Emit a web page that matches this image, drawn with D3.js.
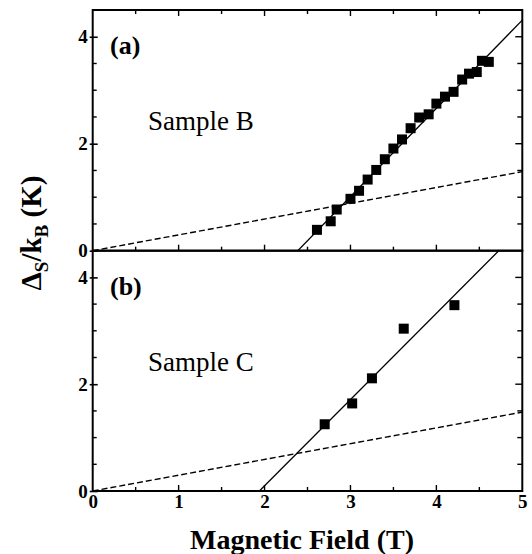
<!DOCTYPE html>
<html>
<head>
<meta charset="utf-8">
<script src="https://cdn.jsdelivr.net/npm/d3@7"></script>
<style>
  html, body { margin: 0; padding: 0; background: #fff; }
  svg { display: block; }
  text { font-family: "Liberation Serif", "Times New Roman", serif; fill: #000; }
</style>
</head>
<body>
<svg id="chart" width="532" height="554"></svg>
<script>
// Spin splitting Δ_S/k_B versus magnetic field, two samples
const fieldB = [2.61, 2.77, 2.84, 3.00, 3.10, 3.20, 3.30, 3.40, 3.50, 3.60, 3.70,
                3.80, 3.91, 4.00, 4.10, 4.20, 4.30, 4.38, 4.47, 4.53, 4.61];
const gapB   = [0.39, 0.55, 0.77, 0.97, 1.12, 1.33, 1.51, 1.71, 1.91, 2.08, 2.29,
                2.49, 2.55, 2.75, 2.88, 2.97, 3.20, 3.31, 3.34, 3.55, 3.53];
const fieldC = [2.70, 3.02, 3.25, 3.62, 4.21];
const gapC   = [1.25, 1.64, 2.11, 3.04, 3.48];

// Linear fits: [field where gap = 0, slope K/T]
const fitB = [2.387, 1.65];
const fitC = [1.94, 1.615];
// Bare Zeeman energy line slope (K/T)
const zeemanSlope = 0.2955;

const xMajor = [0, 1, 2, 3, 4, 5];
const yMajor = [0, 2, 4];
const xDomain = [0, 5];
const yDomain = [0, 4.5];

const svg = d3.select("#chart");
const left = 92.7, right = 522.3;
const serif = "'Liberation Serif', 'Times New Roman', serif";
const panels = [
  { top: 10, bottom: 250.7, tag: "(a)", name: "Sample B", xs: fieldB, ys: gapB, fit: fitB, topTicks: true },
  { top: 250.7, bottom: 491, tag: "(b)", name: "Sample C", xs: fieldC, ys: gapC, fit: fitC, topTicks: false }
];

const x = d3.scaleLinear().domain(xDomain).range([left, right]);
const minorX = d3.range(0, 5.001, 0.5);
const minorY = d3.range(0, 4.501, 0.5);

panels.forEach((p, i) => {
  const y = d3.scaleLinear().domain(yDomain).range([p.bottom, p.top]);
  const g = svg.append("g");
  const clipId = "clip" + i;
  svg.append("clipPath").attr("id", clipId)
    .append("rect").attr("x", left).attr("y", p.top)
    .attr("width", right - left).attr("height", p.bottom - p.top);

  const plot = g.append("g").attr("clip-path", `url(#${clipId})`);

  // Zeeman line (dashed)
  plot.append("path")
    .datum(xDomain)
    .attr("d", d3.line().x(d => x(d)).y(d => y(zeemanSlope * d)))
    .attr("fill", "none").attr("stroke", "#000")
    .attr("stroke-width", 1.4).attr("stroke-dasharray", "6,3");

  // Linear fit (solid)
  const fitXs = [p.fit[0], 5];
  plot.append("path")
    .datum(fitXs)
    .attr("d", d3.line().x(d => x(d)).y(d => y(p.fit[1] * (d - p.fit[0]))))
    .attr("fill", "none").attr("stroke", "#000").attr("stroke-width", 1.3);

  // Data squares
  const sq = 10;
  plot.selectAll("rect.pt").data(p.xs.map((v, k) => [v, p.ys[k]]))
    .join("rect").attr("class", "pt")
    .attr("x", d => x(d[0]) - sq / 2).attr("y", d => y(d[1]) - sq / 2)
    .attr("width", sq).attr("height", sq).attr("fill", "#000");

  // Left axis: labels and major ticks
  const ax = g.append("g").attr("transform", `translate(${left},0)`)
    .call(d3.axisLeft(y).tickValues(yMajor).tickFormat(d3.format("d"))
      .tickSizeInner(-5).tickSizeOuter(0).tickPadding(5));
  ax.select(".domain").remove();
  ax.selectAll(".tick line").attr("x1", -3).attr("x2", 5).attr("stroke-width", 1.6);
  ax.selectAll(".tick text").attr("font-size", 19).attr("font-weight", "bold")
    .attr("font-family", serif);

  // Minor ticks left and right
  g.selectAll("line.ml").data(minorY.filter(v => !yMajor.includes(v) && v > 0 && v < 4.5))
    .join("line").attr("class", "ml")
    .attr("x1", left).attr("x2", left + 4).attr("y1", d => y(d)).attr("y2", d => y(d))
    .attr("stroke", "#000").attr("stroke-width", 1.4);
  g.selectAll("line.mr").data(minorY.filter(v => v > 0 && v < 4.5))
    .join("line").attr("class", "mr")
    .attr("x1", right).attr("x2", d => right - (yMajor.includes(d) ? 7 : 5))
    .attr("y1", d => y(d)).attr("y2", d => y(d))
    .attr("stroke", "#000").attr("stroke-width", 1.4);

  // Bottom edge ticks pointing up
  g.selectAll("line.mb").data(minorX.filter(v => v > 0 && v < 5))
    .join("line").attr("class", "mb")
    .attr("x1", d => x(d)).attr("x2", d => x(d))
    .attr("y1", p.bottom).attr("y2", d => p.bottom - (Number.isInteger(d) ? 6 : 4))
    .attr("stroke", "#000").attr("stroke-width", 1.4);

  if (p.topTicks) {
    g.selectAll("line.mt").data(minorX.filter(v => v > 0 && v < 5))
      .join("line").attr("class", "mt")
      .attr("x1", d => x(d)).attr("x2", d => x(d))
      .attr("y1", p.top).attr("y2", d => p.top + (Number.isInteger(d) ? 6 : 4))
      .attr("stroke", "#000").attr("stroke-width", 1.4);
  }

  // Panel frame
  g.append("rect").attr("x", left).attr("y", p.top)
    .attr("width", right - left).attr("height", p.bottom - p.top)
    .attr("fill", "none").attr("stroke", "#000").attr("stroke-width", 2);

  g.append("text").attr("x", 110).attr("y", p.top + 44)
    .attr("font-size", 26).attr("font-weight", "bold").text(p.tag);
  g.append("text").attr("x", 148).attr("y", p.top + 120)
    .attr("font-size", 27).text(p.name);
});

// Bottom axis labels
const bx = svg.append("g").attr("transform", "translate(0,491)")
  .call(d3.axisBottom(x).tickValues(xMajor).tickFormat(d3.format("d"))
    .tickSizeInner(0).tickSizeOuter(0).tickPadding(3));
bx.select(".domain").remove();
bx.selectAll(".tick text").attr("font-size", 19).attr("font-weight", "bold")
  .attr("font-family", serif);

// Axis titles
svg.append("text").attr("x", 302).attr("y", 549).attr("text-anchor", "middle")
  .attr("font-size", 28).attr("font-weight", "bold").text("Magnetic Field (T)");

const yt = svg.append("text").attr("transform", "translate(41,233) rotate(-90)")
  .attr("text-anchor", "middle").attr("font-size", 29).attr("font-weight", "bold");
yt.append("tspan").text("Δ");
yt.append("tspan").attr("font-size", 19).attr("dy", 7).text("S");
yt.append("tspan").attr("dy", -7).text("/k");
yt.append("tspan").attr("font-size", 19).attr("dy", 7).text("B");
yt.append("tspan").attr("dy", -7).text(" (K)");
</script>
</body>
</html>
